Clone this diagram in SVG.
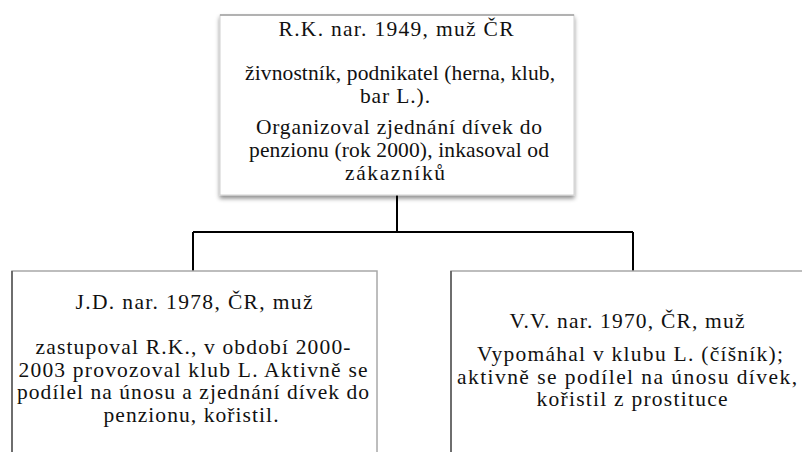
<svg xmlns="http://www.w3.org/2000/svg" width="802" height="452" viewBox="0 0 802 452">
<defs>
<filter id="sh" x="-5%" y="-5%" width="110%" height="115%">
<feDropShadow dx="0" dy="3" stdDeviation="2" flood-color="#000" flood-opacity="0.45"/>
</filter>
</defs>
<style>
.box{fill:#fff;stroke:#a8a8a8;stroke-width:1.5}
.top{fill:#fff;stroke:#d0d0d0;stroke-width:1}
.hedge{stroke:#a0a0a0;stroke-width:1.5}
.edge{stroke:#555;stroke-width:1.5}
.t{font-family:"Liberation Serif","Times New Roman",serif;font-size:21.5px;fill:#111;text-anchor:middle}
.c{fill:none;stroke:#000;stroke-width:2}
</style>
<rect width="802" height="452" fill="#fff"/>
<g id="connectors">
<path class="c" d="M397 195V232M193 232H633M193 232V271M633 232V271"/>
</g>
<g id="node-rk">
<rect class="top" x="220" y="15" width="354" height="180" filter="url(#sh)"/>
<line class="hedge" x1="220" y1="15" x2="574" y2="15"/>
<text class="t" x="396" y="36" textLength="235" lengthAdjust="spacing">R.K. nar. 1949, muž ČR</text>
<text class="t" x="400" y="80" textLength="310" lengthAdjust="spacing">živnostník, podnikatel (herna, klub,</text>
<text class="t" x="395" y="102.5" textLength="70" lengthAdjust="spacing">bar L.).</text>
<text class="t" x="399" y="134" textLength="286" lengthAdjust="spacing">Organizoval zjednání dívek do</text>
<text class="t" x="399" y="157" textLength="300" lengthAdjust="spacing">penzionu (rok 2000), inkasoval od</text>
<text class="t" x="395" y="180" textLength="100" lengthAdjust="spacing">zákazníků</text>
</g>
<g id="node-jd">
<rect class="box" x="12" y="271" width="365" height="200"/>
<line class="edge" x1="12" y1="271" x2="12" y2="452"/>
<text class="t" x="194" y="309" textLength="237" lengthAdjust="spacing">J.D. nar. 1978, ČR, muž</text>
<text class="t" x="193" y="354" textLength="315" lengthAdjust="spacing">zastupoval R.K., v období 2000-</text>
<text class="t" x="193" y="376.5" textLength="349" lengthAdjust="spacing">2003 provozoval klub L. Aktivně se</text>
<text class="t" x="193" y="399" textLength="352" lengthAdjust="spacing">podílel na únosu a zjednání dívek do</text>
<text class="t" x="191" y="421.5" textLength="175" lengthAdjust="spacing">penzionu, kořistil.</text>
</g>
<g id="node-vv">
<rect class="box" x="451" y="271" width="360" height="200"/>
<line class="edge" x1="451" y1="271" x2="451" y2="452"/>
<text class="t" x="627" y="328" textLength="235" lengthAdjust="spacing">V.V. nar. 1970, ČR, muž</text>
<text class="t" x="630" y="361" textLength="306" lengthAdjust="spacing">Vypomáhal v klubu L. (číšník);</text>
<text class="t" x="627" y="383.5" textLength="340" lengthAdjust="spacing">aktivně se podílel na únosu dívek,</text>
<text class="t" x="632" y="406" textLength="191" lengthAdjust="spacing">kořistil z prostituce</text>
</g>
</svg>
